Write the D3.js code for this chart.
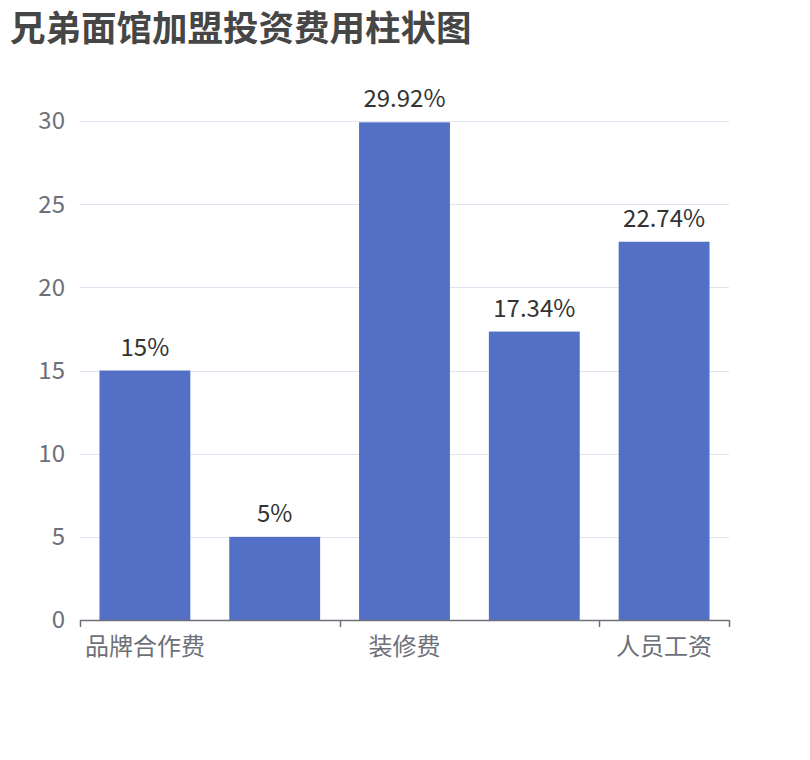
<!DOCTYPE html>
<html><head><meta charset="utf-8">
<script src="https://cdn.jsdelivr.net/npm/d3@7"></script>
<style>
body{margin:0;background:#fff;}
svg{display:block;font-family:"Noto Sans CJK SC","Noto Sans",sans-serif;}
</style></head>
<body><svg id="c" width="810" height="760"></svg>
<script>
const titleText = "兄弟面馆加盟投资费用柱状图";
const categories = ["品牌合作费", "门店租金", "装修费", "设备费", "人员工资"];
const values = [15, 5, 29.92, 17.34, 22.74];
const valueLabels = ["15%", "5%", "29.92%", "17.34%", "22.74%"];
const yTicks = [0, 5, 10, 15, 20, 25, 30];

(function () {
const svg = d3.select("#c");
const pLeft = 80, pRight = 729, pTop = 121, pBottom = 620;

svg.append("text").attr("x", 10).attr("y", 41)
  .attr("font-size", 35.5).attr("font-weight", "bold").attr("fill", "#464646")
  .text(titleText);

const y = d3.scaleLinear().domain([0, 30]).range([pBottom, pTop]);
const x = d3.scaleBand().domain(categories).range([pLeft, pRight]).paddingInner(0.3).paddingOuter(0.15);
const step = x.step();

svg.append("g").selectAll("line").data(yTicks.filter(d => d > 0)).join("line")
  .attr("x1", pLeft).attr("x2", pRight)
  .attr("y1", d => Math.round(y(d)) + 0.5).attr("y2", d => Math.round(y(d)) + 0.5)
  .attr("stroke", "#E0E6F1").attr("stroke-width", 1.2);

svg.append("g").selectAll("text").data(yTicks).join("text")
  .attr("x", 65).attr("y", d => y(d)).attr("dy", "0.35em")
  .attr("text-anchor", "end").attr("font-size", 24).attr("fill", "#6E7079")
  .text(d => d);

svg.append("g").selectAll("rect").data(values).join("rect")
  .attr("x", (d, i) => x(categories[i]))
  .attr("width", x.bandwidth())
  .attr("y", d => y(d))
  .attr("height", d => pBottom - y(d))
  .attr("fill", "#5470C6");

svg.append("g").selectAll("text").data(values).join("text")
  .attr("x", (d, i) => x(categories[i]) + x.bandwidth() / 2)
  .attr("y", d => y(d) - 15)
  .attr("text-anchor", "middle").attr("font-size", 24).attr("fill", "#333")
  .text((d, i) => valueLabels[i]);

svg.append("line").attr("x1", pLeft).attr("x2", pRight).attr("y1", pBottom + 0.5).attr("y2", pBottom + 0.5)
  .attr("stroke", "#6E7079").attr("stroke-width", 1.5);
const shown = [0, 2, 4];
const tickPos = shown.map(i => pLeft + i * step).concat([pRight]);
svg.append("g").selectAll("line").data(tickPos).join("line")
  .attr("x1", d => Math.round(d) + 0.5).attr("x2", d => Math.round(d) + 0.5)
  .attr("y1", pBottom).attr("y2", pBottom + 7)
  .attr("stroke", "#6E7079").attr("stroke-width", 1.5);
svg.append("g").selectAll("text").data(shown).join("text")
  .attr("x", i => x(categories[i]) + x.bandwidth() / 2)
  .attr("y", pBottom + 27).attr("dy", "0.35em")
  .attr("text-anchor", "middle").attr("font-size", 24).attr("fill", "#6E7079")
  .text(i => categories[i]);
})();
</script></body></html>
